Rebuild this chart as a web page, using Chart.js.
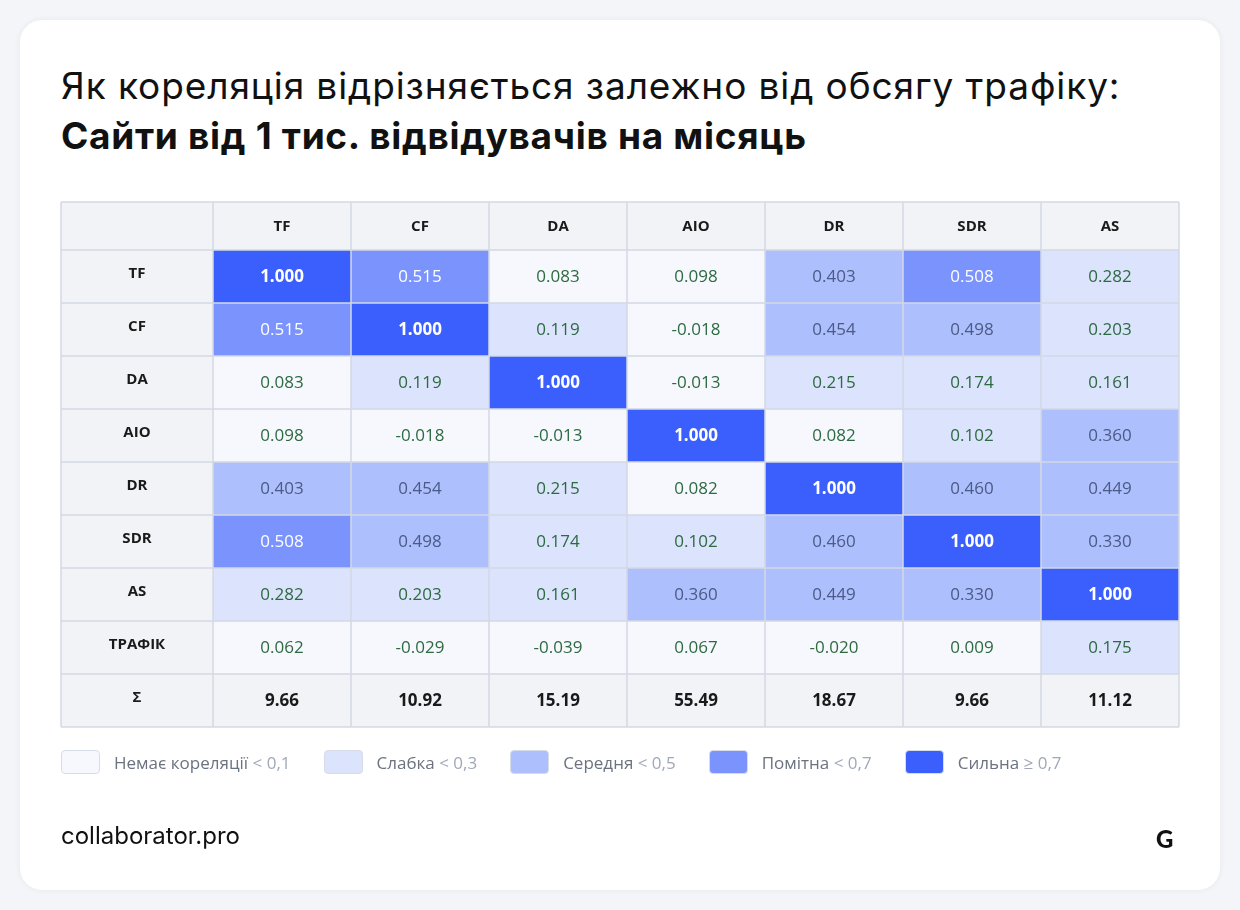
<!DOCTYPE html>
<html><head><meta charset="utf-8">
<script src="https://cdn.jsdelivr.net/npm/chart.js@4"></script>
<style>
body{margin:0;background:#f4f5f9;width:1240px;height:910px;overflow:hidden;font-family:Lato,"Open Sans",sans-serif}
#card{position:absolute;left:20px;top:20px;width:1200px;height:870px;background:#fff;border-radius:22px;box-shadow:0 0 6px rgba(0,0,0,0.06)}
#t1{position:absolute;left:61px;top:63px;font-size:37px;color:#111;font-family:Inter,sans-serif;letter-spacing:0.9px}
#t2{position:absolute;left:61px;top:113px;font-size:37px;color:#111;font-weight:700;font-family:Inter,sans-serif;letter-spacing:0.7px}
#cv{position:absolute;left:0;top:0}
#leg{position:absolute;left:61px;top:750px;display:flex;font-family:"Open Sans",sans-serif;font-size:17px;color:#6b7280}
.it{display:flex;align-items:center;margin-right:33px}
.bx{height:22px;border-radius:4px;border:1px solid #d8dce6;margin-right:14px}
.lt{color:#a0a8b8}
#ft{position:absolute;left:61px;top:821px;font-size:24px;color:#111;font-family:Inter,sans-serif}
#lg{position:absolute;left:1156px;top:824px;font-size:24px;font-weight:900;color:#111}
</style></head><body>
<div id="card"></div>
<div id="t1">Як кореляція відрізняється залежно від обсягу трафіку:</div>
<div id="t2">Сайти від 1 тис. відвідувачів на місяць</div>
<canvas id="cv" width="1240" height="910"></canvas>
<div id="leg"></div>
<div id="ft">collaborator.pro</div>
<div id="lg">G</div>
<script>
const cols=["TF","CF","DA","AIO","DR","SDR","AS"];
const rows=["TF","CF","DA","AIO","DR","SDR","AS","ТРАФІК"];
const matrix=[
[1.000,0.515,0.083,0.098,0.403,0.508,0.282],
[0.515,1.000,0.119,-0.018,0.454,0.498,0.203],
[0.083,0.119,1.000,-0.013,0.215,0.174,0.161],
[0.098,-0.018,-0.013,1.000,0.082,0.102,0.360],
[0.403,0.454,0.215,0.082,1.000,0.460,0.449],
[0.508,0.498,0.174,0.102,0.460,1.000,0.330],
[0.282,0.203,0.161,0.360,0.449,0.330,1.000],
[0.062,-0.029,-0.039,0.067,-0.020,0.009,0.175]];
const sums=["9.66","10.92","15.19","55.49","18.67","9.66","11.12"];
const legendLabels=["Немає кореляції","Слабка","Середня","Помітна","Сильна"];
const legendLimits=["< 0,1","< 0,3","< 0,5","< 0,7","≥ 0,7"];
const palette=["#f6f8fd","#dbe3fd","#aebffd","#7b93fd","#3a5ffd"];
function lvl(v){v=Math.abs(v);return v<0.1?0:v<0.3?1:v<0.5?2:v<0.7?3:4;}
function txtCol(v){const l=lvl(v);return l>=3?"#ffffff":l==2?"#4b5a86":"#2d6a40";}
const leg=document.getElementById('leg');
legendLabels.forEach((l,i)=>{leg.innerHTML+=`<div class="it"><div class="bx" style="background:${palette[i]};width:37px"></div>${l}&nbsp;<span class="lt">${legendLimits[i]}</span></div>`;});
const ylabels=[...rows,"Σ"];
const pts=[];
matrix.forEach((r,ri)=>r.forEach((v,ci)=>pts.push({x:cols[ci],y:rows[ri],v})));
sums.forEach((s,ci)=>pts.push({x:cols[ci],y:"Σ",s}));
const plugin={id:'cells',afterDatasetsDraw(ch){
 const c=ch.ctx,xs=ch.scales.x,ys=ch.scales.y,a=ch.chartArea;
 const cw=(a.right-a.left)/cols.length,rh=(a.bottom-a.top)/ylabels.length;
 const hdrTop=a.top-48,lblLeft=a.left-152;
 c.save();c.textAlign='center';c.textBaseline='middle';
 c.fillStyle='#f2f3f7';c.fillRect(lblLeft,hdrTop,a.right-lblLeft,48);
 c.fillRect(lblLeft,a.top,152,a.bottom-a.top);
 c.font='bold 15px "Open Sans"';c.fillStyle='#1a1a1a';
 cols.forEach(cn=>c.fillText(cn,xs.getPixelForValue(cols.indexOf(cn)),hdrTop+25));
 ylabels.forEach((r,i)=>c.fillText(r,lblLeft+76,ys.getPixelForValue(i)-3));
 ch.data.datasets[0].data.forEach(p=>{
  const cx=xs.getPixelForValue(cols.indexOf(p.x)),cy=ys.getPixelForValue(ylabels.indexOf(p.y));
  if(p.s!==undefined){c.fillStyle='#f2f3f7';c.fillRect(cx-cw/2,cy-rh/2,cw,rh);
   c.font='bold 17px "Open Sans"';c.fillStyle='#1a1a1a';c.fillText(p.s,cx,cy+1);return;}
  c.fillStyle=palette[lvl(p.v)];c.fillRect(cx-cw/2,cy-rh/2,cw,rh);
  c.font=(p.v==1?'bold ':'')+'17px "Open Sans"';c.fillStyle=txtCol(p.v);c.fillText(p.v.toFixed(3),cx,cy+1);
 });
 c.strokeStyle='#d3d9e3';c.lineWidth=1.5;
 for(let i=0;i<=cols.length;i++){const x=a.left+i*cw;c.beginPath();c.moveTo(x,hdrTop);c.lineTo(x,a.bottom);c.stroke();}
 c.beginPath();c.moveTo(lblLeft,hdrTop);c.lineTo(lblLeft,a.bottom);c.stroke();
 for(let i=0;i<=ylabels.length;i++){const y=a.top+i*rh;c.beginPath();c.moveTo(lblLeft,y);c.lineTo(a.right,y);c.stroke();}
 c.beginPath();c.moveTo(lblLeft,hdrTop);c.lineTo(a.right,hdrTop);c.stroke();
 c.restore();}};
new Chart(document.getElementById('cv'),{type:'scatter',
 data:{datasets:[{data:pts,pointRadius:0}]},
 options:{responsive:false,animation:false,events:[],
  layout:{padding:{left:213,right:61,top:250,bottom:183}},
  plugins:{legend:{display:false},tooltip:{enabled:false}},
  scales:{x:{type:'category',labels:cols,offset:true,display:false},
          y:{type:'category',labels:ylabels,offset:true,display:false}}},
 plugins:[plugin]});
</script></body></html>
